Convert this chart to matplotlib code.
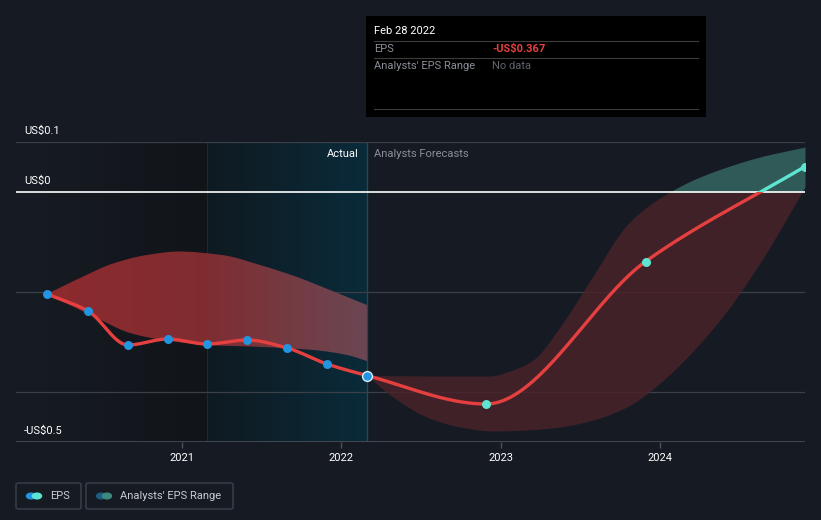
import numpy as np
import matplotlib.pyplot as plt
from matplotlib.colors import LinearSegmentedColormap
from matplotlib.patches import Rectangle, FancyBboxPatch, Circle

plt.rcParams['font.family'] = ['Roboto', 'DejaVu Sans']

# EPS history (decimal years, US$)
actual_x = [2020.153, 2020.41, 2020.66, 2020.91, 2021.157, 2021.41, 2021.66, 2021.91, 2022.161]
actual_eps = [-0.204, -0.238, -0.306, -0.294, -0.304, -0.296, -0.312, -0.344, -0.367]
# analyst forecasts
forecast_x = [2022.908, 2023.91, 2024.911]
forecast_eps = [-0.424, -0.139, 0.051]

# past analyst range band
past_up_x = [2020.153, 2020.36, 2020.567, 2020.78, 2020.98, 2021.25, 2021.5, 2021.722, 2021.929, 2022.161]
past_up = [-0.204, -0.172, -0.143, -0.126, -0.119, -0.126, -0.147, -0.170, -0.196, -0.226]
past_lo_x = [2020.153, 2020.466, 2020.674, 2020.881, 2021.157, 2021.508, 2021.822, 2022.036, 2022.161]
past_lo = [-0.204, -0.252, -0.282, -0.296, -0.306, -0.310, -0.316, -0.326, -0.338]
# forecast range band
fc_up_x = [2022.161, 2022.62, 2022.933, 2023.059, 2023.203, 2023.373, 2023.58, 2023.793, 2023.919,
           2024.063, 2024.208, 2024.421, 2024.628, 2024.911]
fc_up = [-0.367, -0.368, -0.368, -0.358, -0.336, -0.270, -0.168, -0.066, -0.030,
         0.0, 0.024, 0.050, 0.070, 0.090]
fc_lo_x = [2022.161, 2022.325, 2022.538, 2022.745, 2022.952, 2023.166, 2023.373, 2023.58, 2023.793,
           2024.001, 2024.377, 2024.628, 2024.911]
fc_lo = [-0.367, -0.410, -0.450, -0.470, -0.478, -0.476, -0.470, -0.456, -0.430,
         -0.382, -0.256, -0.142, 0.010]

year_ticks = [2021, 2022, 2023, 2024]

BG = '#151a23'
RED = '#e5403f'
BLUE = '#2394df'
TEAL = '#5de5d2'


def pchip(x, y, n=400):
    x = np.asarray(x, float)
    y = np.asarray(y, float)
    h = np.diff(x)
    d = np.diff(y) / h
    m = np.zeros_like(y)
    for i in range(1, len(y) - 1):
        if d[i - 1] * d[i] > 0:
            w1 = 2 * h[i] + h[i - 1]
            w2 = h[i] + 2 * h[i - 1]
            m[i] = (w1 + w2) / (w1 / d[i - 1] + w2 / d[i])
    m[0] = d[0]
    m[-1] = d[-1]
    xs = np.linspace(x[0], x[-1], n)
    idx = np.clip(np.searchsorted(x, xs) - 1, 0, len(h) - 1)
    t = (xs - x[idx]) / h[idx]
    h00 = 2 * t**3 - 3 * t**2 + 1
    h10 = t**3 - 2 * t**2 + t
    h01 = -2 * t**3 + 3 * t**2
    h11 = t**3 - t**2
    ys = h00 * y[idx] + h10 * h[idx] * m[idx] + h01 * y[idx + 1] + h11 * h[idx] * m[idx + 1]
    return xs, ys


fig = plt.figure(figsize=(8.21, 5.2), dpi=100)
fig.patch.set_facecolor(BG)
ax = fig.add_axes([16 / 821, 78 / 520, 789 / 821, 300 / 520])
ax.set_facecolor(BG)
x0, x1 = 2019.958, 2024.911
y0, y1 = -0.5, 0.1
ax.set_xlim(x0, x1)
ax.set_ylim(y0, y1)
for s in ax.spines.values():
    s.set_visible(False)

# background shading: past / actual
past_cmap = LinearSegmentedColormap.from_list('past', ['#171c24', '#111419'])
act_cmap = LinearSegmentedColormap.from_list('act', ['#0f1a21', '#0a2b3a'])
grad = np.linspace(0, 1, 256).reshape(1, -1)
ax.imshow(grad, cmap=past_cmap, extent=[x0, 2021.157, y0, y1], aspect='auto', zorder=0)
ax.imshow(grad, cmap=act_cmap, extent=[2021.157, 2022.161, y0, y1], aspect='auto', zorder=0)
ax.axvline(2022.161, color='#1e4b5c', lw=1, zorder=1)
ax.axvline(2021.157, color='#1a2a33', lw=0.8, zorder=1)

# gridlines
for gy in [0.1, -0.2, -0.4]:
    ax.axhline(gy, color='#3a3f48', lw=0.9, zorder=1)
ax.axhline(-0.5, color='#4a4f58', lw=1.2, zorder=1)

# past range band with gradient
bx_up, by_up = pchip(past_up_x, past_up)
bx_lo, by_lo = pchip(past_lo_x, past_lo)
band_x = np.linspace(past_up_x[0], past_up_x[-1], 400)
poly = ax.fill_between(band_x, np.interp(band_x, bx_lo, by_lo), np.interp(band_x, bx_up, by_up),
                       color='none', lw=0, zorder=2)
band_cmap = LinearSegmentedColormap.from_list('band', ['#8e2a2e', '#7f2d32', '#6b4753'])
img = ax.imshow(grad, cmap=band_cmap, extent=[past_up_x[0], past_up_x[-1], y0, y1],
                aspect='auto', zorder=2)
img.set_clip_path(poly.get_paths()[0], transform=ax.transData)

# forecast range band, red below zero, teal above
fx_up, fy_up = pchip(fc_up_x, fc_up)
fx_lo, fy_lo = pchip(fc_lo_x, fc_lo)
fband_x = np.linspace(fc_up_x[0], fc_up_x[-1], 400)
f_up = np.interp(fband_x, fx_up, fy_up)
f_lo = np.interp(fband_x, fx_lo, fy_lo)
ax.fill_between(fband_x, np.minimum(f_lo, 0), np.minimum(f_up, 0), color='#4a2329', alpha=0.85, lw=0, zorder=2)
ax.fill_between(fband_x, np.maximum(f_lo, 0), np.maximum(f_up, 0), color='#2f5a58', lw=0, zorder=2)

# zero line
ax.axhline(0, color='white', lw=1.2, zorder=3)

# EPS line
lx, ly = pchip(actual_x + forecast_x, actual_eps + forecast_eps, n=800)
neg = ax.plot(lx, ly, color=RED, lw=2.4, zorder=4, solid_capstyle='round')[0]
neg.set_clip_path(Rectangle((x0, y0), x1 - x0, -y0, transform=ax.transData))
pos = ax.plot(lx, ly, color=TEAL, lw=2.4, zorder=4, solid_capstyle='round')[0]
pos.set_clip_path(Rectangle((x0, 0), x1 - x0, y1, transform=ax.transData))

ax.scatter(actual_x[:-1], actual_eps[:-1], s=42, color=BLUE, lw=0, zorder=5)
ax.scatter(actual_x[-1:], actual_eps[-1:], s=50, color=BLUE, edgecolor='#d8eef8', lw=1.0, zorder=5)
ax.scatter(forecast_x, forecast_eps, s=42, color=TEAL, lw=0, zorder=5)

# axis ticks
ax.set_xticks(year_ticks)
ax.set_xticklabels([str(y) for y in year_ticks])
ax.tick_params(axis='x', colors='#4a4f58', length=4, width=1, labelcolor='white', labelsize=8, pad=4)
ax.set_yticks([])

# y labels inside plot
for val, lab in [(0.1, 'US$0.1'), (0, 'US$0'), (-0.5, '-US$0.5')]:
    ax.text(2019.958 + 8 / 159.3, val + 0.012, lab, color='white', fontsize=8, va='bottom', ha='left', zorder=6)

ax.text(2022.161 - 8 / 159.3, 0.076, 'Actual', color='white', fontsize=8, ha='right', va='center', zorder=6)
ax.text(2022.161 + 7 / 159.3, 0.076, 'Analysts Forecasts', color='#8a8f98', fontsize=8, ha='left', va='center', zorder=6)

# tooltip box
fig.patches.append(Rectangle((366 / 821, 1 - 117 / 520), 340 / 821, 101 / 520, transform=fig.transFigure,
                             facecolor='black', edgecolor='none', zorder=10))
fig.text(374 / 821, 1 - 31 / 520, 'Feb 28 2022', color='white', fontsize=8, va='center', zorder=11)
for ly_px in [41, 58, 109]:
    fig.add_artist(plt.Line2D([374 / 821, 698 / 821], [1 - ly_px / 520] * 2, color='#3c3c3c', lw=0.8, zorder=11))
fig.text(374 / 821, 1 - 49 / 520, 'EPS', color='#8a8f98', fontsize=8, va='center', zorder=11)
fig.text(492 / 821, 1 - 49 / 520, '-US$0.367', color=RED, fontsize=8, va='center', fontweight='bold', zorder=11)
fig.text(374 / 821, 1 - 66 / 520, "Analysts' EPS Range", color='#8a8f98', fontsize=8, va='center', zorder=11)
fig.text(492 / 821, 1 - 66 / 520, 'No data', color='#5f636b', fontsize=8, va='center', zorder=11)

# legend
for bx, bw, c1, c2, lab in [(16, 65, BLUE, TEAL, 'EPS'), (86, 147, '#1f5c82', '#3e8a80', "Analysts' EPS Range")]:
    fig.patches.append(FancyBboxPatch((bx / 821, 1 - 509 / 520), bw / 821, 26 / 520, transform=fig.transFigure,
                                      boxstyle='round,pad=0,rounding_size=0.003', facecolor='none',
                                      edgecolor='#3c424b', lw=1))
    cy = 1 - 496 / 520
    fig.add_artist(Circle(((bx + 15) / 821, cy), 4.5 / 821, transform=fig.transFigure, color=c1, zorder=5))
    fig.add_artist(Circle(((bx + 21) / 821, cy), 4.5 / 821, transform=fig.transFigure, color=c2, zorder=6))
    fig.text((bx + 34) / 821, cy, lab, color='#c8cbd0', fontsize=8, va='center')

fig.savefig('out.png', dpi=100, facecolor=BG)
